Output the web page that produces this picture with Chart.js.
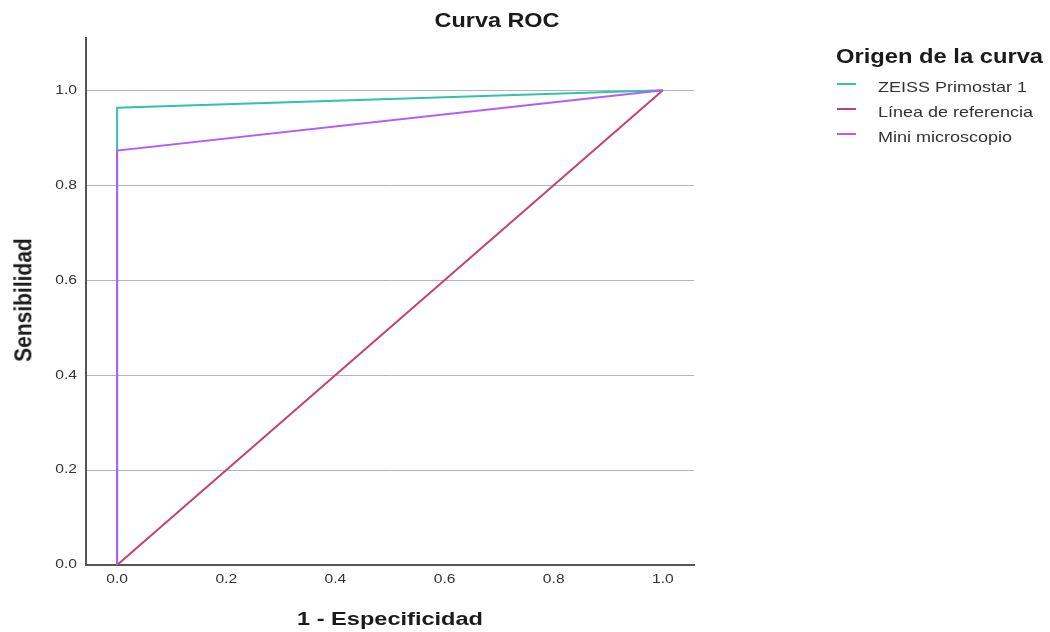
<!DOCTYPE html>
<html lang="es">
<head>
<meta charset="UTF-8">
<title>Curva ROC</title>
<script src="https://cdn.jsdelivr.net/npm/chart.js@4/dist/chart.umd.min.js"></script>
<style>
    body{
        margin: 0;
        background: #fff;
        font-family: "Liberation Sans", Arial, sans-serif;
    }
    #wrap{
        position: relative;
        width: 1050px;
        height: 632px;
    }
    .txt{
        position: absolute;
        white-space: nowrap;
        font-weight: bold;
        color: #1a1a1a;
        line-height: 1;
    }
    #titulo{
        left: 497px;
        top: 11px;
        font-size: 19.5px;
        transform: translateX(-50%) scaleX(1.2);
    }
    #xtit{
        left: 390px;
        top: 609px;
        font-size: 19px;
        transform: translateX(-50%) scaleX(1.24);
    }
    #ytit{
        left: 23px;
        top: 300px;
        font-size: 21px;
        transform: translate(-50%, -50%) rotate(-90deg) scaleY(1.1);
    }
    #leyenda{
        position: absolute;
        left: 836px;
        top: 44px;
        color: #333;
    }
    #leyenda h3{
        margin: 0 0 7px 0;
        font-size: 21px;
        line-height: 1.1;
        color: #1a1a1a;
        transform-origin: left center;
        transform: scaleX(1.13);
    }
    .item{
        position: relative;
        height: 25px;
        font-size: 15px;
        line-height: 25px;
        white-space: nowrap;
    }
    .item b{
        font-weight: normal;
        position: absolute;
        left: 42px;
        transform-origin: left center;
        transform: scaleX(1.2);
    }
    .item span{
        position: absolute;
        left: 1px;
        top: 9px;
        width: 19px;
        height: 2px;
    }
</style>
</head>
<body>
<div id="wrap">
    <canvas id="roc" width="1050" height="632"></canvas>
    <div id="titulo" class="txt">Curva ROC</div>
    <div id="xtit" class="txt">1 - Especificidad</div>
    <div id="ytit" class="txt">Sensibilidad</div>
    <div id="leyenda"><h3>Origen de la curva</h3></div>
</div>
<script>
// datos de la curva
var zeissX = [0, 0, 1];
var zeissY = [0, 0.963, 1];
var refX = [0, 1];
var refY = [0, 1];
var miniX = [0, 0, 1];
var miniY = [0, 0.873, 1];

var nombres = ["ZEISS Primostar 1", "Línea de referencia", "Mini microscopio"];
var colores = ["#30c5a5", "#c2436f", "#b35cfd"];
var orden = [3, 2, 1];
var xTicks = [0, 0.2, 0.4, 0.6, 0.8, 1.0];
var yTicks = [0, 0.2, 0.4, 0.6, 0.8, 1.0];

function puntos(xs, ys){
    var p = [];
    for(var i = 0; i < xs.length; i++) p.push({x: xs[i], y: ys[i]});
    return p;
}

var series = [puntos(zeissX, zeissY), puntos(refX, refY), puntos(miniX, miniY)];

// leyenda html
var ley = document.getElementById("leyenda");
for(var i = 0; i < nombres.length; i++){
    var d = document.createElement("div");
    d.className = "item";
    d.innerHTML = '<span style="background:' + colores[i] + '"></span><b>' + nombres[i] + '</b>';
    ley.appendChild(d);
}

// etiquetas de los ejes, algo estiradas como en la imagen
var etiquetas = {
    id: "etiquetas",
    afterDraw: function(chart){
        var ctx = chart.ctx;
        var xs = chart.scales.x, ys = chart.scales.y;
        ctx.save();
        ctx.fillStyle = "#333";
        ctx.font = "12.5px 'Liberation Sans', Arial, sans-serif";
        ctx.textBaseline = "middle";
        ctx.textAlign = "center";
        xTicks.forEach(function(v){
            ctx.save();
            ctx.translate(xs.getPixelForValue(v), 580);
            ctx.scale(1.25, 1);
            ctx.fillText(v.toFixed(1), 0, 0);
            ctx.restore();
        });
        ctx.textAlign = "right";
        yTicks.forEach(function(v){
            ctx.save();
            ctx.translate(ys.left + 77, ys.getPixelForValue(v));
            ctx.scale(1.25, 1);
            ctx.fillText(v.toFixed(1), 0, 0);
            ctx.restore();
        });
        ctx.restore();
    }
};

new Chart("roc", {
    type: "scatter",
    data: {
        datasets: series.map(function(s, i){
            return {
                label: nombres[i],
                data: s,
                showLine: true,
                borderColor: colores[i],
                borderWidth: 2,
                pointRadius: 0,
                fill: false,
                order: orden[i]
            };
        })
    },
    options: {
        responsive: false,
        animation: false,
        layout: {padding: {left: 0, top: 38, right: 356, bottom: 0}},
        plugins: {legend: {display: false}, tooltip: {enabled: false}},
        scales: {
            x: {
                type: "linear",
                min: -0.057,
                max: 1.057,
                afterBuildTicks: function(s){ s.ticks = xTicks.map(function(v){ return {value: v}; }); },
                afterFit: function(s){ s.height = 67; },
                grid: {display: false, drawTicks: false},
                border: {color: "#555", width: 2},
                ticks: {display: false}
            },
            y: {
                type: "linear",
                min: 0,
                max: 1.11,
                afterBuildTicks: function(s){ s.ticks = yTicks.map(function(v){ return {value: v}; }); },
                afterFit: function(s){ s.width = 86; },
                grid: {
                    drawTicks: false,
                    color: function(c){ return c.tick && c.tick.value === 0 ? "rgba(0,0,0,0)" : "#b4b4b4"; },
                    lineWidth: 1
                },
                border: {color: "#555", width: 2},
                ticks: {display: false}
            }
        }
    },
    plugins: [etiquetas]
});
</script>
</body>
</html>
